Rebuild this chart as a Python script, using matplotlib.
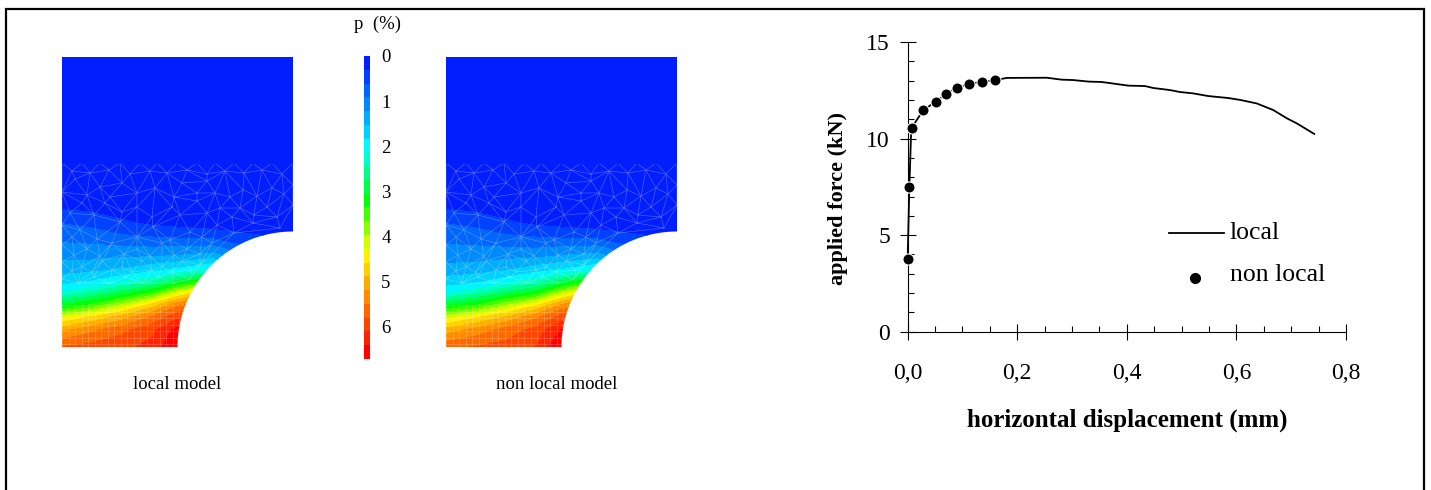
import numpy as np
from matplotlib import pyplot as plt
from matplotlib.colors import LinearSegmentedColormap, BoundaryNorm
from matplotlib.patches import Polygon
from matplotlib.tri import Triangulation

plt.rcParams['font.family'] = ['Liberation Serif', 'DejaVu Serif']

# force / displacement curves
local_x = [0.0, 0.003, 0.006, 0.0073, 0.0286, 0.051, 0.069, 0.0906, 0.1125, 0.135, 0.16, 0.181, 0.254,
           0.281, 0.302, 0.33, 0.354, 0.403, 0.433, 0.448, 0.479, 0.497, 0.521, 0.549, 0.585, 0.607,
           0.637, 0.667, 0.692, 0.71, 0.742]
local_y = [3.88, 7.5, 10.1, 10.56, 11.48, 11.9, 12.3, 12.62, 12.84, 12.93, 13.03, 13.14, 13.15,
           13.05, 13.03, 12.95, 12.93, 12.74, 12.72, 12.62, 12.51, 12.41, 12.34, 12.2, 12.1, 12.0,
           11.82, 11.48, 11.05, 10.79, 10.24]
nonlocal_x = [0.0, 0.003, 0.0073, 0.0286, 0.051, 0.069, 0.0906, 0.1125, 0.135, 0.16]
nonlocal_y = [3.75, 7.5, 10.56, 11.48, 11.9, 12.3, 12.62, 12.84, 12.93, 13.03]

# plastic strain (columns: px from left edge, rows: px down from the top)
field_cols = [0, 30, 60, 90, 115, 150, 231]
field_rows = [0, 106, 143, 166, 178, 198, 213, 226, 236, 248, 260, 273, 290]
p_local = [
    [0.0, 0.0, 0.0, 0.0, 0.0, 0.0, 0.0],
    [0.0, 0.0, 0.0, 0.0, 0.0, 0.0, 0.0],
    [0.1, 0.08, 0.05, 0.04, 0.03, 0.02, 0.0],
    [0.6, 0.5, 0.35, 0.25, 0.2, 0.15, 0.1],
    [0.8, 0.75, 0.62, 0.55, 0.5, 0.45, 0.2],
    [1.1, 1.1, 1.15, 1.15, 1.2, 1.3, 0.5],
    [1.4, 1.45, 1.55, 1.75, 1.9, 2.2, 1.0],
    [1.75, 1.9, 2.2, 2.5, 3.0, 3.8, 1.5],
    [2.2, 2.5, 2.9, 3.4, 4.2, 5.0, 2.0],
    [3.0, 3.4, 4.0, 4.7, 5.4, 5.8, 3.0],
    [4.2, 4.6, 5.0, 5.5, 6.0, 6.3, 4.0],
    [5.1, 5.4, 5.7, 6.0, 6.5, 6.6, 5.0],
    [5.8, 5.9, 6.0, 6.2, 6.7, 6.7, 6.0],
]
p_nonlocal = [
    [0.0, 0.0, 0.0, 0.0, 0.0, 0.0, 0.0],
    [0.0, 0.0, 0.0, 0.0, 0.0, 0.0, 0.0],
    [0.1, 0.08, 0.05, 0.04, 0.03, 0.02, 0.0],
    [0.6, 0.5, 0.35, 0.25, 0.2, 0.15, 0.1],
    [0.8, 0.75, 0.62, 0.55, 0.5, 0.45, 0.2],
    [1.05, 1.05, 1.1, 1.1, 1.2, 1.3, 0.5],
    [1.35, 1.4, 1.5, 1.7, 1.85, 2.15, 1.0],
    [1.7, 1.8, 2.1, 2.4, 2.9, 3.7, 1.5],
    [2.1, 2.4, 2.8, 3.2, 4.0, 4.9, 2.0],
    [3.0, 3.3, 3.9, 4.5, 5.2, 5.7, 3.0],
    [4.1, 4.5, 4.9, 5.4, 5.9, 6.2, 4.0],
    [5.0, 5.3, 5.6, 5.9, 6.4, 6.6, 5.0],
    [5.7, 5.8, 5.9, 6.1, 6.7, 6.7, 6.0],
]

# irregular mesh nodes of the coarse zone, px from the left edge / top of the map
mesh_x = [0, 20, 38, 58, 78, 95, 115, 135, 153, 172, 191, 210, 231,
          10, 28, 47, 68, 88, 105, 125, 145, 163, 182, 200, 220,
          13, 38, 60, 93, 135, 153, 181, 210, 231,
          0, 25, 48, 75, 112, 120, 145, 168, 195, 222,
          20, 43, 75, 110, 135, 158, 178, 205, 231,
          8, 32, 60, 90, 118, 145, 170, 192, 215,
          0, 18, 58, 91, 128, 155, 191, 218,
          10, 35, 75, 108, 140, 172,
          0, 25, 50, 75, 100, 125, 150,
          12, 38, 62, 88, 112, 138,
          0, 20, 40, 60, 80, 100, 120, 138,
          10, 30, 50, 70, 90, 110, 130,
          0, 16, 32, 48, 64, 80, 96, 112, 128]
mesh_y = [106, 106, 106, 106, 106, 106, 106, 106, 106, 106, 106, 106, 106,
          114, 116, 113, 117, 114, 116, 113, 117, 114, 116, 113, 117,
          122, 130, 126, 131, 136, 136, 133, 131, 128,
          135, 138, 140, 136, 140, 126, 124, 140, 139, 137,
          146, 146, 150, 150, 144, 151, 151, 150, 148,
          156, 158, 155, 160, 158, 156, 160, 158, 160,
          168, 173, 165, 170, 175, 168, 166, 171,
          180, 182, 180, 183, 180, 176,
          188, 192, 186, 192, 186, 192, 186,
          198, 199, 197, 199, 198, 197,
          205, 210, 204, 210, 204, 210, 204, 208,
          214, 215, 213, 215, 213, 215, 213,
          222, 226, 220, 226, 220, 226, 220, 226, 222]

colorbar_ticks = ['0', '1', '2', '3', '4', '5', '6']
x_ticks = [0.0, 0.2, 0.4, 0.6, 0.8]
x_tick_labels = ['0,0', '0,2', '0,4', '0,6', '0,8']
y_ticks = [0, 5, 10, 15]

W, H = 1431, 490
P_MAX = 6.7
MAP_W, MAP_H = 231, 290
NOTCH_R = 115.5

fig = plt.figure(figsize=(W / 100, H / 100), dpi=100)
page = fig.add_axes([0, 0, 1, 1])
page.set_xlim(0, W)
page.set_ylim(H, 0)
page.axis('off')

# page frame
page.plot([6, 6, 1424, 1424], [H, 9, 9, H], color='black', lw=1.6, solid_joinstyle='miter')

strain_cmap = LinearSegmentedColormap.from_list(
    'strain', [(0, '#001eff'), (0.295, '#00ffff'), (0.48, '#00ff00'), (0.65, '#ffff00'), (1, '#ff0000')])
levels = np.linspace(0, P_MAX, 23)
norm = BoundaryNorm(levels, strain_cmap.N)


def draw_map(left, top, values):
    xs = left + np.array(field_cols)
    ys = top + np.array(field_rows)
    cs = page.contourf(xs, ys, np.array(values), levels=levels, cmap=strain_cmap, norm=norm)

    # outline with the quarter circle notch
    a = np.radians(np.linspace(180, 90, 60))
    cx, cy = left + MAP_W, top + MAP_H
    arc_x = cx + NOTCH_R * np.cos(a)
    arc_y = cy - NOTCH_R * np.sin(a)
    outline = [(left, top), (left + MAP_W, top)] + list(zip(arc_x[::-1], arc_y[::-1])) + [(left, top + MAP_H)]
    clip = Polygon(outline, closed=True, transform=page.transData, facecolor='none', edgecolor='none')
    page.add_patch(clip)
    cs.set_clip_path(clip)

    # mesh stops below the top block, so cut it there
    mesh_clip = Polygon([(left, top + 107), (left + MAP_W, top + 107)] + list(zip(arc_x[::-1], arc_y[::-1]))
                        + [(left, top + MAP_H)], closed=True, transform=page.transData,
                        facecolor='none', edgecolor='none')
    page.add_patch(mesh_clip)

    # coarse mesh
    tri = Triangulation(left + np.array(mesh_x), top + np.array(mesh_y))
    centre_x = tri.x[tri.triangles].mean(axis=1)
    centre_y = tri.y[tri.triangles].mean(axis=1)
    tri.set_mask(np.hypot(centre_x - cx, centre_y - cy) < NOTCH_R + 4)
    for line in page.triplot(tri, color='white', lw=0.5, alpha=0.28):
        line.set_clip_path(mesh_clip)

    # fine square mesh at the bottom
    for gx in np.arange(left, left + 122, 6.5):
        ln, = page.plot([gx, gx], [top + 248, top + MAP_H], color='white', lw=0.4, alpha=0.3)
        ln.set_clip_path(clip)
    for gy in np.arange(top + 248, top + MAP_H, 6.5):
        ln, = page.plot([left, left + 125], [gy, gy], color='white', lw=0.4, alpha=0.3)
        ln.set_clip_path(clip)


draw_map(62, 57, p_local)
draw_map(446, 57, p_nonlocal)
page.set_xlim(0, W)
page.set_ylim(H, 0)

page.text(177.5, 384, 'local model', fontsize=13.5, ha='center', va='center')
page.text(557, 384, 'non local model', fontsize=13.5, ha='center', va='center')

# colour scale
scale = np.linspace(0, P_MAX, 22)[:, None]
page.imshow(scale, cmap=LinearSegmentedColormap.from_list('s', strain_cmap(np.linspace(0, 1, 22)), N=22),
            extent=[364, 370, 359, 57], aspect='auto', interpolation='nearest', vmin=0, vmax=P_MAX)
page.set_xlim(0, W)
page.set_ylim(H, 0)
page.text(377, 24, 'p  (%)', fontsize=13.5, ha='center', va='center')
for i, label in enumerate(colorbar_ticks):
    page.text(386, 58 + i * 45, label, fontsize=13.5, ha='center', va='center')

# force curve
ax = fig.add_axes([907.7 / W, 1 - 331.7 / H, (1346 - 907.7) / W, (331.7 - 42) / H])
ax.patch.set_alpha(0)
ax.plot(local_x, local_y, color='black', lw=1.3, clip_on=False, zorder=3)
ax.plot(nonlocal_x, nonlocal_y, ls='none', marker='o', ms=8, mfc='black', mec='white', mew=0.8,
        clip_on=False, zorder=4)
ax.set_xlim(0, 0.8)
ax.set_ylim(0, 15)
ax.spines['top'].set_visible(False)
ax.spines['right'].set_visible(False)
ax.spines['left'].set_linewidth(0.8)
ax.spines['bottom'].set_linewidth(0.8)
ax.set_xticks(x_ticks)
ax.set_xticklabels(x_tick_labels)
ax.set_yticks(y_ticks)
ax.set_xticks(np.arange(0, 0.8, 0.05), minor=True)
ax.set_yticks(np.arange(0, 15, 1), minor=True)
ax.tick_params(axis='both', which='major', direction='inout', length=11.5, width=0.8, labelsize=17)
ax.tick_params(axis='x', which='major', pad=17)
ax.tick_params(axis='y', which='major', pad=7)
ax.tick_params(axis='both', which='minor', direction='in', length=4.5, width=0.8)

page.text(1127, 420, 'horizontal displacement (mm)', fontsize=18, fontweight='bold', ha='center', va='center')
page.text(838, 198, 'applied force (kN)', fontsize=16, fontweight='bold', rotation=90, ha='center', va='center')

# legend
page.plot([1169, 1224], [233, 233], color='black', lw=1.3)
page.text(1230, 233, 'local', fontsize=18.5, ha='left', va='center')
page.plot([1195], [278], marker='o', ms=7, color='black')
page.text(1230, 275, 'non local', fontsize=18.5, ha='left', va='center')

fig.savefig('out.png', dpi=100)
